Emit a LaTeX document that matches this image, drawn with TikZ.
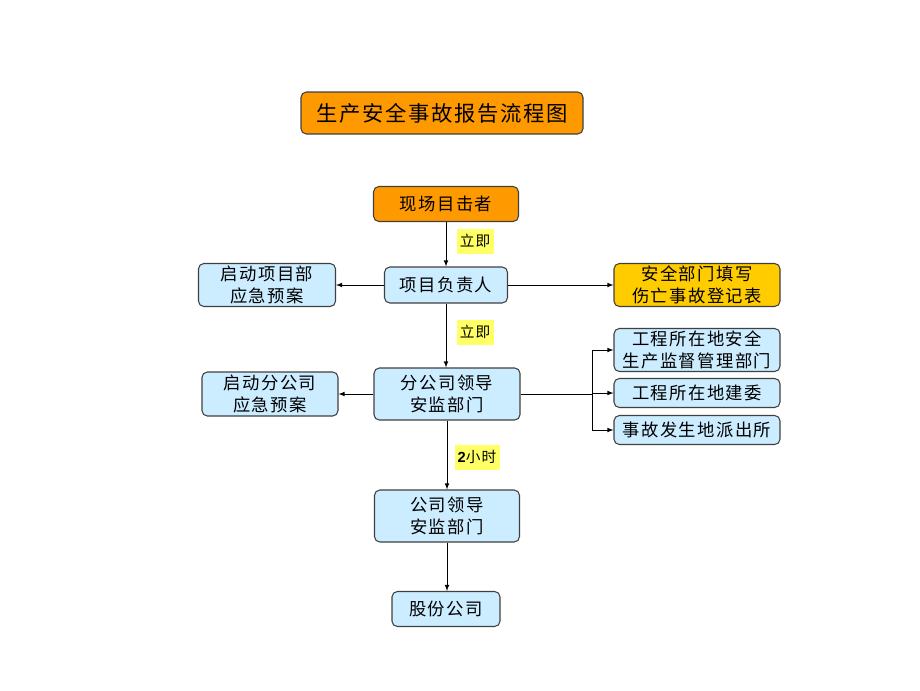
\documentclass[tikz,border=0pt]{standalone}
\usepackage{fontspec}
\setmainfont{Liberation Sans}
\newfontfamily\cjk[LetterSpace=8]{Noto Sans CJK SC}
\usetikzlibrary{calc}
\definecolor{boxblue}{HTML}{CCECFF}
\definecolor{boxorange}{HTML}{FF9900}
\definecolor{boxgold}{HTML}{FFCC00}
\definecolor{tagyellow}{HTML}{FFFF66}
\definecolor{edgegray}{HTML}{404040}
\tikzset{
	box/.style={draw=edgegray, line width=0.8pt, rounded corners=4pt, fill=boxblue, align=center, inner sep=0pt, font=\cjk\fontsize{13}{16.5}\selectfont},
	tag/.style={fill=tagyellow, inner sep=0pt, font=\cjk\fontsize{11}{12}\selectfont},
	flow/.style={-latex, line width=0.6pt}
}

\begin{document}
\begin{tikzpicture}[x=0.75pt, y=-0.75pt]
		%%%%% START %%%%%
		\useasboundingbox (0, 0) rectangle (920, 690);
		
		\node[box, fill=boxorange, minimum width=211.5pt, minimum height=31.5pt, font=\cjk\fontsize{16}{18}\selectfont] (title) at (442, 113) {生产安全事故报告流程图};
		
		\node[box, fill=boxorange, minimum width=108.75pt, minimum height=26.25pt] (witness) at (446, 204) {现场目击者};
		\node[box, minimum width=92.25pt, minimum height=27pt] (leader) at (446, 285) {项目负责人};
		\node[box, minimum width=102.75pt, minimum height=32.25pt] (plan1) at (267, 285) {启动项目部\\应急预案};
		\node[box, fill=boxgold, minimum width=124.5pt, minimum height=32.25pt] (record) at (697, 285) {安全部门填写\\伤亡事故登记表};
		
		\node[box, minimum width=109.5pt, minimum height=39pt] (branch) at (447, 394) {分公司领导\\安监部门};
		\node[box, minimum width=102pt, minimum height=33pt] (plan2) at (270, 394) {启动分公司\\应急预案};
		\node[box, minimum width=124.5pt, minimum height=32.25pt] (supervise) at (697, 350) {工程所在地安全\\生产监督管理部门};
		\node[box, minimum width=124.5pt, minimum height=21.75pt] (construct) at (697, 393) {工程所在地建委};
		\node[box, minimum width=124.5pt, minimum height=21.75pt] (police) at (697, 430) {事故发生地派出所};
		
		\node[box, minimum width=108.75pt, minimum height=39pt] (company) at (447, 516) {公司领导\\安监部门};
		\node[box, minimum width=81pt, minimum height=26.25pt] (group) at (446, 609) {股份公司};
		
		\node[tag, minimum width=27.75pt, minimum height=18.75pt] (now1) at (475, 241) {立即};
		\node[tag, minimum width=27.75pt, minimum height=18.75pt] (now2) at (475, 332) {立即};
		\node[tag, minimum width=33.75pt, minimum height=18.75pt] (hours) at (477, 457) {{\fontspec{Liberation Sans}\bfseries 2}小时};
		
		\draw[flow] (witness) -- (leader);
		\draw[flow] (leader) -- (plan1);
		\draw[flow] (leader) -- (record);
		\draw[flow] (leader) -- (leader |- branch.north);
		\draw[flow] (branch) -- (plan2);
		\draw[flow] (branch) -- (company);
		\draw[flow] (company) -- (company |- group.north);
		
		\coordinate (fork) at (592, 394);
		\draw[line width=0.6pt] (branch.east) -- (fork);
		\draw[flow] (fork) |- (supervise.west);
		\draw[flow] (fork) |- (construct.west);
		\draw[flow] (fork) |- (police.west);
		
		%%%%% END %%%%%
	\end{tikzpicture}
\end{document}
